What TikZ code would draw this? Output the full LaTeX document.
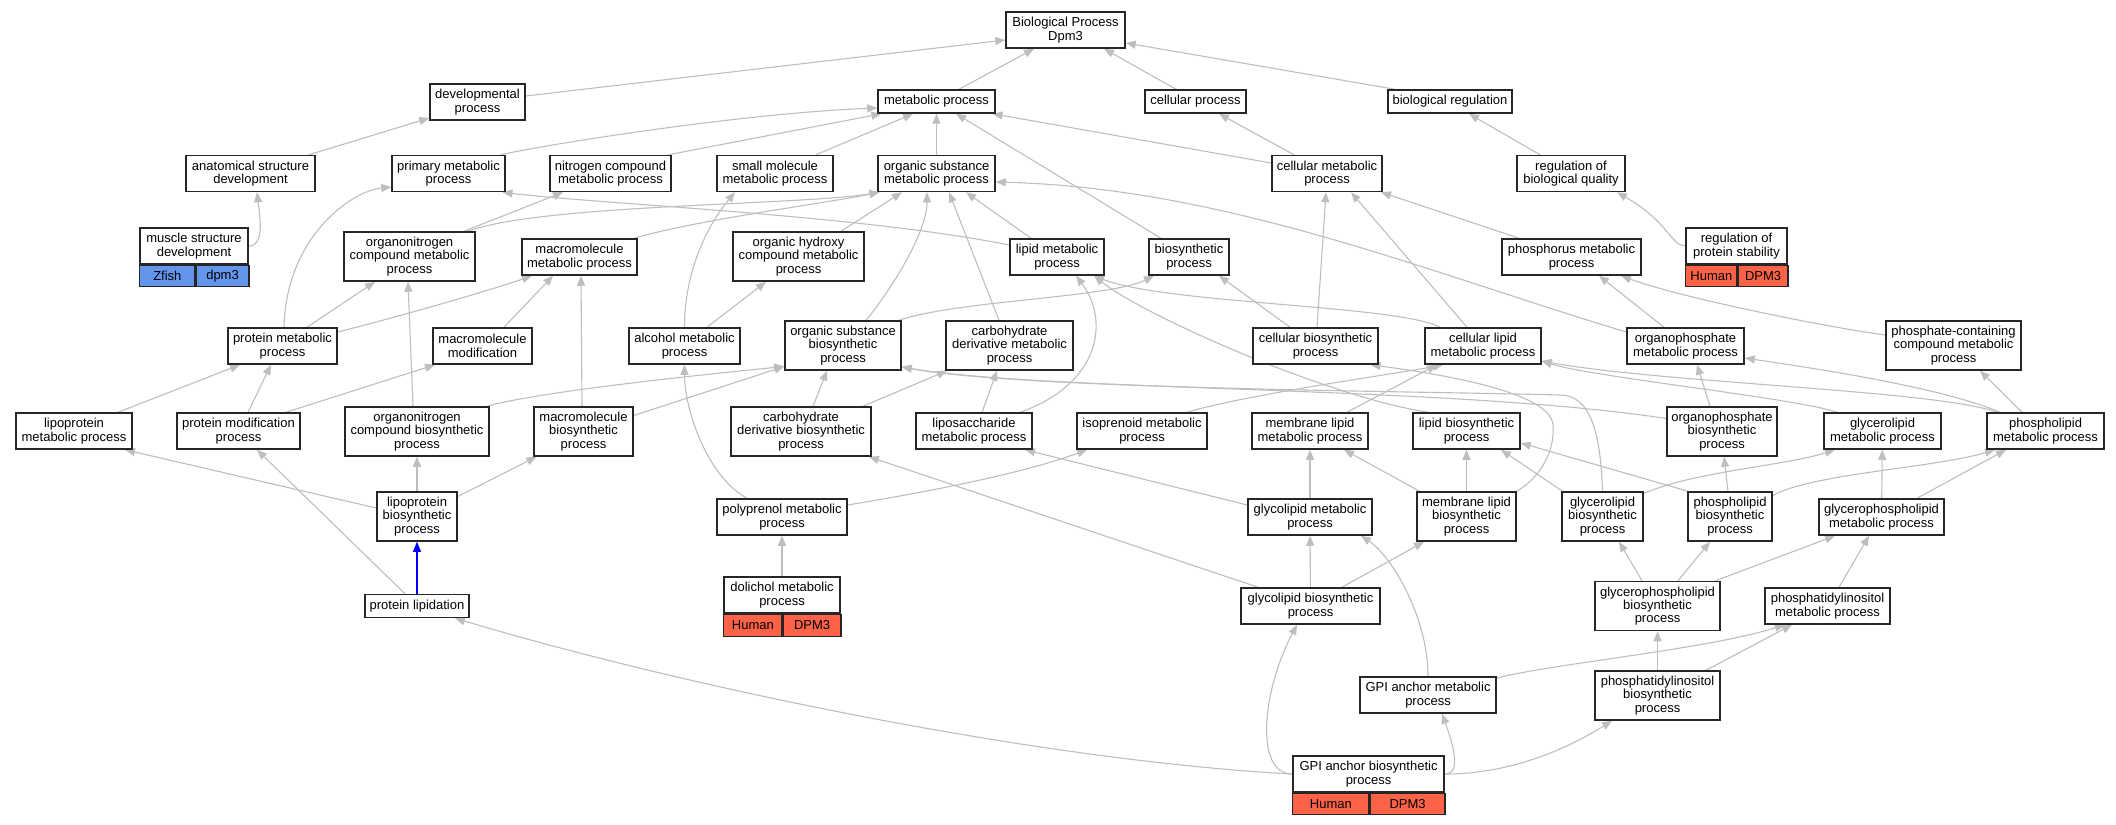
\documentclass[tikz,border=0pt]{standalone}
\usepackage{fontspec}
\setmainfont{Liberation Sans}
\usepackage{tikz}
\usetikzlibrary{arrows.meta,backgrounds}
\definecolor{tomato}{RGB}{255,99,71}
\definecolor{zfblue}{RGB}{100,149,237}
\definecolor{edgegray}{RGB}{190,190,190}
\tikzset{term/.style={draw=black!85,line width=1.5pt,fill=white,inner sep=0pt,align=center,
        font=\fontsize{13}{13.3}\selectfont},
        l1/.style={minimum height=23pt},l2/.style={minimum height=36pt},l3/.style={minimum height=49pt},
        hit/.style={draw=black!85,line width=1.2pt,inner sep=0pt,minimum height=21pt,anchor=north west,
        font=\fontsize{13}{13.3}\selectfont},
        isa/.style={draw=edgegray,line width=1.1pt,-{Triangle[length=10pt,width=8pt]}},
        isablue/.style={isa,draw=blue}}

\begin{document}
\begin{tikzpicture}[x=1pt,y=-1pt]
  \useasboundingbox (0,0) rectangle (2116,824);
  \node[term,l2,minimum width=119pt] (bp) at (1065.5,30) {Biological Process\\Dpm3};
  \node[term,l2,minimum width=95pt] (devel) at (477.5,102) {developmental\\process};
  \node[term,l1,minimum width=117pt] (metab) at (936.5,101.5) {metabolic process};
  \node[term,l1,minimum width=101pt] (cellproc) at (1195.5,101.5) {cellular process};
  \node[term,l1,minimum width=124pt] (bioreg) at (1450,101.5) {biological regulation};
  \node[term,l2,minimum width=129pt] (anat) at (250.5,173.5) {anatomical structure\\development};
  \node[term,l2,minimum width=113pt] (primary) at (448.5,173.5) {primary metabolic\\process};
  \node[term,l2,minimum width=121pt] (nitrogen) at (610.5,173.5) {nitrogen compound\\metabolic process};
  \node[term,l2,minimum width=116pt] (smallmol) at (775,173.5) {small molecule\\metabolic process};
  \node[term,l2,minimum width=117pt] (orgsub) at (936.5,173.5) {organic substance\\metabolic process};
  \node[term,l2,minimum width=110pt] (cellmetab) at (1327,173.5) {cellular metabolic\\process};
  \node[term,l2,minimum width=108pt] (regqual) at (1571,173.5) {regulation of\\biological quality};
  \node[term,l2,minimum width=108pt] (muscle) at (194,246) {muscle structure\\development};
  \node[hit,fill=zfblue,minimum width=55pt] (muscle-z) at (muscle.south west) {Zfish};
  \node[hit,fill=zfblue,minimum width=53pt] (muscle-g) at (muscle-z.north east) {dpm3};
  \node[term,l3,minimum width=131pt] (orgnitro) at (409.5,256.5) {organonitrogen\\compound metabolic\\process};
  \node[term,l2,minimum width=115pt] (macromet) at (579.5,257) {macromolecule\\metabolic process};
  \node[term,l3,minimum width=131pt] (orghydroxy) at (798.5,256.5) {organic hydroxy\\compound metabolic\\process};
  \node[term,l2,minimum width=94pt] (lipid) at (1057,257) {lipid metabolic\\process};
  \node[term,l2,minimum width=80pt] (biosyn) at (1189,257) {biosynthetic\\process};
  \node[term,l2,minimum width=139pt] (phosphorus) at (1571.5,257) {phosphorus metabolic\\process};
  \node[term,l2,minimum width=101pt] (regstab) at (1736.5,246) {regulation of\\protein stability};
  \node[hit,fill=tomato,minimum width=51pt] (regstab-h) at (regstab.south west) {Human};
  \node[hit,fill=tomato,minimum width=50pt] (regstab-g) at (regstab-h.north east) {DPM3};
  \node[term,l2,minimum width=109pt] (protmet) at (282.5,346) {protein metabolic\\process};
  \node[term,l2,minimum width=99pt] (macromod) at (482.5,346) {macromolecule\\modification};
  \node[term,l2,minimum width=111pt] (alcohol) at (684.5,346) {alcohol metabolic\\process};
  \node[term,l3,minimum width=116pt] (orgsubbio) at (843,345.5) {organic substance\\biosynthetic\\process};
  \node[term,l3,minimum width=127pt] (carbmet) at (1009.5,345.5) {carbohydrate\\derivative metabolic\\process};
  \node[term,l2,minimum width=125pt] (cellbio) at (1315.5,346) {cellular biosynthetic\\process};
  \node[term,l2,minimum width=116pt] (celllipid) at (1483,346) {cellular lipid\\metabolic process};
  \node[term,l2,minimum width=117pt] (orgphosmet) at (1685.5,346) {organophosphate\\metabolic process};
  \node[term,l3,minimum width=135pt] (phoscont) at (1953.5,345.5) {phosphate-containing\\compound metabolic\\process};
  \node[term,l2,minimum width=116pt] (lipometab) at (74,431) {lipoprotein\\metabolic process};
  \node[term,l2,minimum width=123pt] (protmod) at (238.5,431) {protein modification\\process};
  \node[term,l3,minimum width=144pt] (orgnitrobio) at (417,431.5) {organonitrogen\\compound biosynthetic\\process};
  \node[term,l3,minimum width=99pt] (macrobio) at (583.5,431.5) {macromolecule\\biosynthetic\\process};
  \node[term,l3,minimum width=140pt] (carbbio) at (801,431.5) {carbohydrate\\derivative biosynthetic\\process};
  \node[term,l2,minimum width=116pt] (liposacch) at (974,431) {liposaccharide\\metabolic process};
  \node[term,l2,minimum width=130pt] (isoprenoid) at (1142,431) {isoprenoid metabolic\\process};
  \node[term,l2,minimum width=116pt] (membmet) at (1310,431) {membrane lipid\\metabolic process};
  \node[term,l2,minimum width=107pt] (lipidbio) at (1466.5,431) {lipid biosynthetic\\process};
  \node[term,l3,minimum width=110pt] (orgphosbio) at (1722,431.5) {organophosphate\\biosynthetic\\process};
  \node[term,l2,minimum width=117pt] (glycerolmet) at (1882.5,431) {glycerolipid\\metabolic process};
  \node[term,l2,minimum width=117pt] (phosplmet) at (2045.5,431) {phospholipid\\metabolic process};
  \node[term,l3,minimum width=80pt] (lipobio) at (417,516.5) {lipoprotein\\biosynthetic\\process};
  \node[term,l2,minimum width=130pt] (polyprenol) at (782,517) {polyprenol metabolic\\process};
  \node[term,l2,minimum width=124pt] (glycomet) at (1310,517) {glycolipid metabolic\\process};
  \node[term,l3,minimum width=99pt] (membbio) at (1466.5,516.5) {membrane lipid\\biosynthetic\\process};
  \node[term,l3,minimum width=81pt] (glycerolbio) at (1602.5,516.5) {glycerolipid\\biosynthetic\\process};
  \node[term,l3,minimum width=84pt] (phosplbio) at (1730,516.5) {phospholipid\\biosynthetic\\process};
  \node[term,l2,minimum width=125pt] (gpmet) at (1881.5,517) {glycerophospholipid\\metabolic process};
  \node[term,l1,minimum width=104pt] (protlip) at (417,606) {protein lipidation};
  \node[term,l2,minimum width=116pt] (dolichol) at (782,595) {dolichol metabolic\\process};
  \node[hit,fill=tomato,minimum width=58pt,minimum height=22pt] (dolichol-h) at (dolichol.south west) {Human};
  \node[hit,fill=tomato,minimum width=58pt,minimum height=22pt] (dolichol-g) at (dolichol-h.north east) {DPM3};
  \node[term,l2,minimum width=139pt] (glycobio) at (1310.5,606) {glycolipid biosynthetic\\process};
  \node[term,l3,minimum width=125pt] (gpbio) at (1657.5,606) {glycerophospholipid\\biosynthetic\\process};
  \node[term,l2,minimum width=125pt] (pimet) at (1827.5,606) {phosphatidylinositol\\metabolic process};
  \node[term,l2,minimum width=136pt] (gpimet) at (1428,695) {GPI anchor metabolic\\process};
  \node[term,l3,minimum width=125pt] (pibio) at (1657.5,695.5) {phosphatidylinositol\\biosynthetic\\process};
  \node[term,l2,minimum width=151pt] (gpibio) at (1368.5,774) {GPI anchor biosynthetic\\process};
  \node[hit,fill=tomato,minimum width=76pt] (gpibio-h) at (gpibio.south west) {Human};
  \node[hit,fill=tomato,minimum width=75pt] (gpibio-g) at (gpibio-h.north east) {DPM3};
  \coordinate (mbturn) at (1553,425);
  \coordinate (gbturn) at (1560,395);
  \begin{scope}[on background layer]
  \fill[white] (0,0) rectangle (2116,824);
  \draw[isa] ([xshift=22.5pt]metab.north) -- ([xshift=-31.5pt]bp.south);
  \draw[isa] ([xshift=-19.5pt]cellproc.north) -- ([xshift=38.5pt]bp.south);
  \draw[isa] ([xshift=-55pt]bioreg.north) -- ([yshift=-13pt]bp.east);
  \draw[isa] ([yshift=6pt]devel.east) -- ([yshift=-10pt]bp.west);
  \draw[isa] ([xshift=58.5pt]anat.north) -- ([yshift=-16pt]devel.west);
  \draw[isa] (muscle.east) .. controls +(16,0) and +(3,25) .. ([xshift=6.5pt]anat.south);
  \draw[isa] ([xshift=52pt]primary.north) .. controls +(55,-12) and +(-130,5) .. ([yshift=-6.5pt]metab.west);
  \draw[isa] ([xshift=58pt]nitrogen.north) -- ([xshift=-55pt]metab.south);
  \draw[isa] ([xshift=41pt]smallmol.north) -- ([xshift=-23.5pt]metab.south);
  \draw[isa] (orgsub) -- (metab);
  \draw[isa] ([yshift=10.5pt]cellmetab.west) -- ([xshift=56pt]metab.south);
  \draw[isa] ([xshift=-28pt]biosyn.north) -- ([xshift=19.5pt]metab.south);
  \draw[isa] ([xshift=-33pt]cellmetab.north) -- ([xshift=23.5pt]cellproc.south);
  \draw[isa] ([xshift=-31pt]regqual.north) -- ([xshift=19pt]bioreg.south);
  \draw[isa] (regstab.west) .. controls +(-14,0) and +(51,29) .. ([xshift=46pt]regqual.south);
  \draw[isa] ([xshift=54.5pt]orgnitro.north) -- ([xshift=-47.5pt]nitrogen.south);
  \draw[isa] ([xshift=58.5pt]orgnitro.north) .. controls +(72,-27) and +(-78,13) .. ([xshift=-57pt]orgsub.south);
  \draw[isa] ([yshift=12pt]lipid.west) .. controls +(-150,-30) and +(100,12) .. ([xshift=54pt]primary.south);
  \draw[isa] ([xshift=-26pt]lipid.north) -- ([xshift=29.5pt]orgsub.south);
  \draw[isa] ([xshift=55pt]macromet.north) .. controls +(60,-18) and +(-60,12) .. ([xshift=-57pt]orgsub.south);
  \draw[isa] ([xshift=42.5pt]orghydroxy.north) -- ([xshift=-34.5pt]orgsub.south);
  \draw[isa] ([xshift=23pt]orgsubbio.north) .. controls +(25,-30) and +(0,40) .. ([xshift=-9.5pt]orgsub.south);
  \draw[isa] ([xshift=-10.5pt]carbmet.north) -- ([xshift=12.5pt]orgsub.south);
  \draw[isa] ([yshift=14pt]orgphosmet.west) .. controls +(-200,-60) and +(230,6) .. ([yshift=-8.5pt]orgsub.east);
  \draw[isa] ([xshift=56pt]orgsubbio.north) .. controls +(60,-20) and +(-44,22) .. ([xshift=-35pt]biosyn.south);
  \draw[isa] ([xshift=-25.5pt]cellbio.north) -- ([xshift=30pt]biosyn.south);
  \draw[isa] ([xshift=46pt]liposacch.north) .. controls +(80,-28) and +(34,45) .. ([xshift=19pt]lipid.south);
  \draw[isa] ([xshift=-38pt]lipidbio.north) .. controls +(-100,-15) and +(50,40) .. ([xshift=37pt]lipid.south);
  \draw[isa] ([xshift=-43pt]celllipid.north) .. controls +(-40,-22) and +(70,28) .. ([xshift=37pt]lipid.south);
  \draw[isa] ([xshift=1.5pt]cellbio.north) -- ([xshift=-1pt]cellmetab.south);
  \draw[isa] ([xshift=-16pt]celllipid.north) -- ([xshift=24pt]cellmetab.south);
  \draw[isa] ([xshift=-52.5pt]phosphorus.north) -- ([xshift=54pt]cellmetab.south);
  \draw[isa] ([xshift=-21.5pt]orgphosmet.north) -- ([xshift=27.5pt]phosphorus.south);
  \draw[isa] ([yshift=10.5pt]phoscont.west) .. controls +(-60,-8) and +(60,22) .. ([xshift=49.5pt]phosphorus.south);
  \draw[isa] ([xshift=37pt]membmet.north) -- ([xshift=-46pt]celllipid.south);
  \draw[isa] ([xshift=45pt]isoprenoid.north) .. controls +(60,-18) and +(-40,8) .. ([xshift=-40pt]celllipid.south);
  \draw[isa] ([xshift=-45.5pt]glycerolmet.north) .. controls +(-40,-14) and +(50,16) .. ([yshift=-15pt]celllipid.east);
  \draw[isa] ([xshift=-48.5pt]phosplmet.north) .. controls +(-60,-22) and +(120,22) .. ([yshift=-15pt]celllipid.east);
  \draw[isa] ([xshift=70pt]orgnitrobio.north) .. controls +(50,-14) and +(-100,10) .. ([yshift=-21pt]orgsubbio.west);
  \draw[isa] ([yshift=16pt]macrobio.east) -- ([yshift=-21pt]orgsubbio.west);
  \draw[isa] ([xshift=12pt]carbbio.north) -- ([xshift=-16pt]orgsubbio.south);
  \draw[isa] ([yshift=13pt]orgphosbio.west) .. controls +(-217,-33) and +(150,25) .. ([yshift=-21.5pt]orgsubbio.east);
  \draw[isa] (glycerolbio.north) .. controls +(-2,-60) and +(30,0) .. (gbturn)
        .. controls +(-150,-4) and +(120,22) .. ([yshift=-21.5pt]orgsubbio.east);
  \draw[isa] (membbio.north east) .. controls +(25,-15) and +(2,25) .. (mbturn)
        .. controls +(-2,-30) and +(90,12) .. ([xshift=55pt]cellbio.south);
  \draw[isa] ([xshift=8pt]liposacch.north) -- ([xshift=-12.5pt]carbmet.south);
  \draw[isa] ([xshift=62pt]carbbio.north) -- ([xshift=-62.5pt]carbmet.south);
  \draw[isa] ([xshift=44pt]lipometab.north) -- ([xshift=-42.5pt]protmet.south);
  \draw[isa] ([xshift=9.5pt]protmod.north) -- ([xshift=-11.5pt]protmet.south);
  \draw[isa] ([xshift=47.5pt]protmod.north) -- ([xshift=-47.5pt]macromod.south);
  \draw[isa] ([xshift=21.5pt]macromod.north) -- ([xshift=-26.5pt]macromet.south);
  \draw[isa] ([yshift=14pt]protmet.east) .. controls +(60,-15) and +(-40,14) .. ([xshift=-47.5pt]macromet.south);
  \draw[isa] ([xshift=24.5pt]protmet.north) -- ([xshift=-34.5pt]orgnitro.south);
  \draw[isa] ([xshift=1.5pt]protmet.north) .. controls +(2,-90) and +(-40,4) .. ([yshift=-13.5pt]primary.west);
  \draw[isa] ([xshift=-4pt]orgnitrobio.north) -- ([xshift=-1.5pt]orgnitro.south);
  \draw[isa] ([xshift=-1.5pt]macrobio.north) -- ([xshift=1.5pt]macromet.south);
  \draw[isa] ([yshift=8.5pt]lipobio.west) -- ([xshift=51pt]lipometab.south);
  \draw[isa] (lipobio) -- (orgnitrobio);
  \draw[isa] ([yshift=20pt]lipobio.east) -- ([xshift=-47pt]macrobio.south);
  \draw[isablue] (protlip) -- (lipobio);
  \draw[isa] ([xshift=-12pt]protlip.north) -- ([xshift=18.5pt]protmod.south);
  \draw[isa] (gpibio.west) .. controls +(-243,-13) and +(245,73) .. ([xshift=38pt]protlip.south);
  \draw[isa] (dolichol) -- (polyprenol);
  \draw[isa] ([xshift=-35pt]polyprenol.north) .. controls +(-40,-22) and +(0,45) .. (alcohol.south);
  \draw[isa] ([yshift=12pt]polyprenol.east) .. controls +(103,-17) and +(-57,21) .. ([xshift=-55pt]isoprenoid.south);
  \draw[isa] (alcohol.north) .. controls +(0,-60) and +(-25,30) .. ([xshift=-40pt]smallmol.south);
  \draw[isa] ([xshift=22.5pt]alcohol.north) -- ([xshift=-32.5pt]orghydroxy.south);
  \draw[isa] ([xshift=-52.5pt]glycobio.north) -- ([xshift=68pt]carbbio.south);
  \draw[isa] ([yshift=12pt]glycomet.west) -- ([xshift=51pt]liposacch.south);
  \draw[isa] (glycomet) -- (membmet);
  \draw[isa] (glycobio) -- (glycomet);
  \draw[isa] ([xshift=31.5pt]glycobio.north) -- ([xshift=-42.5pt]membbio.south);
  \draw[isa] ([xshift=-47pt]membbio.north) -- ([xshift=34pt]membmet.south);
  \draw[isa] (membbio) -- (lipidbio);
  \draw[isa] (gpimet.north) .. controls +(0,-60) and +(30,20) .. ([xshift=51pt]glycomet.south);
  \draw[isa] (gpibio.west) .. controls +(-38,0) and +(-35,66) .. ([xshift=-13.5pt]glycobio.south);
  \draw[isa] (gpibio.east) .. controls +(18,0) and +(10,28) .. ([xshift=14pt]gpimet.south);
  \draw[isa] (gpibio.east) .. controls +(70,0) and +(-40,25) .. ([xshift=-45.5pt]pibio.south);
  \draw[isa] ([yshift=17pt]gpimet.east) .. controls +(60,-15) and +(-80,25) .. ([xshift=-42.5pt]pimet.south);
  \draw[isa] (pibio) -- (gpbio);
  \draw[isa] ([xshift=48.5pt]pibio.north) -- ([xshift=-35.5pt]pimet.south);
  \draw[isa] ([xshift=-15.5pt]gpbio.north) -- ([xshift=16.5pt]glycerolbio.south);
  \draw[isa] ([xshift=20.5pt]gpbio.north) -- ([xshift=-20pt]phosplbio.south);
  \draw[isa] ([xshift=58pt]gpbio.north) -- ([xshift=-46.5pt]gpmet.south);
  \draw[isa] ([xshift=11.5pt]pimet.north) -- ([xshift=-12.5pt]gpmet.south);
  \draw[isa] (gpmet) -- (glycerolmet);
  \draw[isa] ([xshift=35.5pt]gpmet.north) -- ([xshift=-39.5pt]phosplmet.south);
  \draw[isa] ([xshift=-2pt]phosplbio.north) -- ([xshift=2pt]orgphosbio.south);
  \draw[isa] ([yshift=21pt]phosplbio.east) .. controls +(40,-22) and +(-60,18) .. ([xshift=-50.5pt]phosplmet.south);
  \draw[isa] ([yshift=23pt]glycerolbio.east) .. controls +(50,-22) and +(-50,16) .. ([xshift=-47.5pt]glycerolmet.south);
  \draw[isa] ([xshift=-42pt]phosplbio.north) -- ([yshift=-12pt]lipidbio.east);
  \draw[isa] ([xshift=-40pt]glycerolbio.north) -- ([xshift=34.5pt]lipidbio.south);
  \draw[isa] ([xshift=-12pt]orgphosbio.north) -- ([xshift=11.5pt]orgphosmet.south);
  \draw[isa] ([xshift=-23.5pt]phosplmet.north) -- ([xshift=26.5pt]phoscont.south);
  \draw[isa] ([xshift=-45.5pt]phosplmet.north) .. controls +(-60,-25) and +(80,12) .. ([yshift=-12pt]orgphosmet.east);
  \end{scope}
\end{tikzpicture}
\end{document}
